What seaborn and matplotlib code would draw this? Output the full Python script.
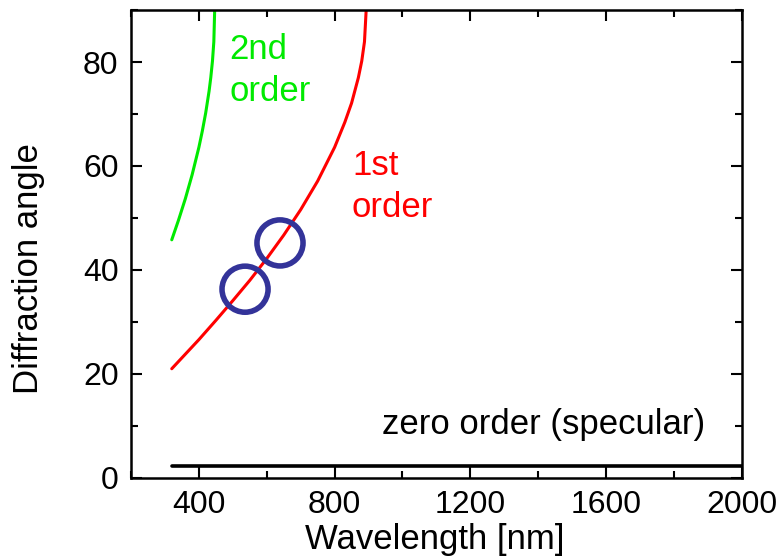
import matplotlib
matplotlib.use("Agg")
import matplotlib.pyplot as plt
import seaborn as sns
from matplotlib.ticker import MultipleLocator

# Values
first_wl = [320, 350, 400, 450, 500, 550, 600, 650, 700, 750, 800, 830, 850, 870, 880, 888, 893]
first_ang = [21.0, 23.1, 26.6, 30.3, 34.1, 38.0, 42.2, 46.7, 51.6, 57.1, 63.6, 68.4, 72.1, 77.0, 80.2, 83.9, 90.0]
second_wl = [320, 340, 360, 380, 400, 410, 420, 430, 435, 440, 444, 446.5]
second_ang = [45.8, 49.6, 53.7, 58.3, 63.6, 66.7, 70.2, 74.4, 77.0, 80.2, 83.9, 90.0]
zero_wl = [320, 2000]
zero_ang = [2.3, 2.3]
laser_wl = [536, 639]
laser_ang = [36.3, 45.2]
x_ticks = [400, 800, 1200, 1600, 2000]

sns.set_style("ticks")
plt.rcParams['font.family'] = ['Liberation Sans', 'DejaVu Sans']

fig = plt.figure(figsize=(7.8, 5.57), dpi=100)
ax = fig.add_axes([0.168, 0.142, 0.783, 0.840])

sns.lineplot(x=first_wl, y=first_ang, ax=ax, color='#ff0000', lw=2.2, sort=False)
sns.lineplot(x=second_wl, y=second_ang, ax=ax, color='#00ea00', lw=2.2, sort=False)
sns.lineplot(x=zero_wl, y=zero_ang, ax=ax, color='black', lw=2.6, sort=False)
ax.scatter(laser_wl, laser_ang, s=1100, facecolors='none', edgecolors='#333399', linewidths=4, zorder=5)

ax.set_xlim(200, 2000)
ax.set_ylim(0, 90)
ax.set_xticks(x_ticks)
ax.xaxis.set_minor_locator(MultipleLocator(200))
ax.yaxis.set_major_locator(MultipleLocator(20))
ax.yaxis.set_minor_locator(MultipleLocator(10))
ax.tick_params(which='both', direction='in', top=True, right=True, width=1.5, labelsize=23, colors='black')
ax.tick_params(which='major', length=8, pad=9)
ax.tick_params(which='minor', length=5)
for s in ax.spines.values():
    s.set_linewidth(1.8)
    s.set_color('black')

ax.set_xlabel('Wavelength [nm]', fontsize=25, color='black')
ax.set_ylabel('Diffraction angle', fontsize=25, color='black')
ax.xaxis.label.set_va('center')
ax.xaxis.set_label_coords(0.498, -0.1325)
ax.yaxis.label.set_va('center')
ax.yaxis.label.set_ha('center')
ax.yaxis.set_label_coords(-0.1686, 0.448)

ax.text(489, 78.3, '2nd\norder', color='#00ea00', fontsize=25, va='center', ha='left', linespacing=1.35)
ax.text(851, 56.0, '1st\norder', color='#ff0000', fontsize=25, va='center', ha='left', linespacing=1.35)
ax.text(939, 10.2, 'zero order (specular)', color='black', fontsize=25, va='center', ha='left')

fig.savefig('out.png', dpi=100)
